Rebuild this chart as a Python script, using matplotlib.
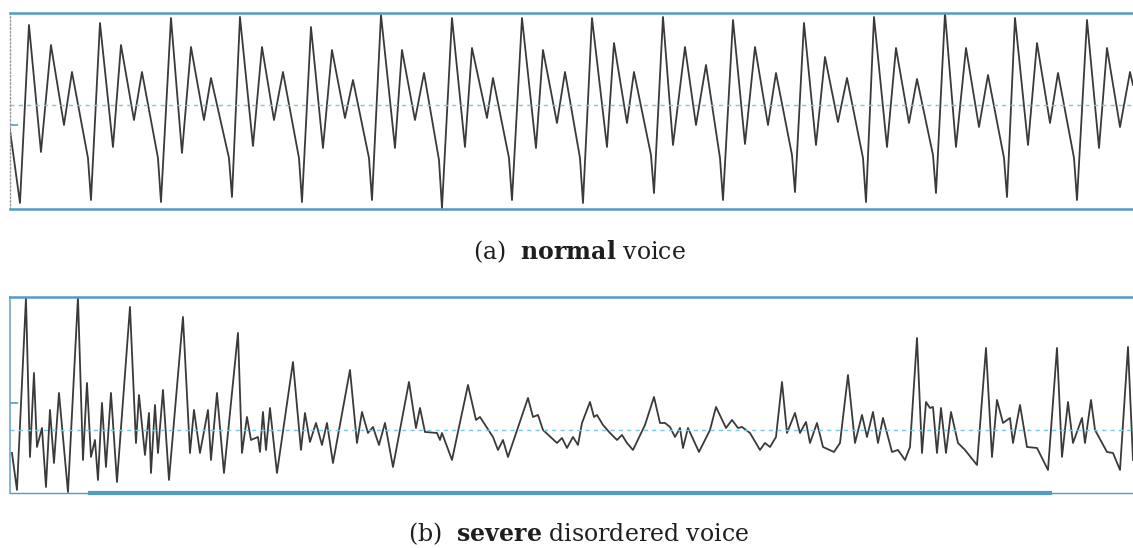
import matplotlib.pyplot as plt

plt.rcParams['mathtext.fontset'] = 'dejavuserif'

# (a) normal voice: sample index and amplitude (dashed line = 0)
t_normal = [10, 20, 29, 41, 51, 64, 72, 88, 91,
            100, 113, 121, 134, 142, 158, 161,
            171, 182, 191, 204, 211, 229, 232,
            240, 253, 262, 274, 283, 299, 302,
            311, 323, 332, 345, 353, 369, 372,
            381, 395, 402, 415, 424, 439, 442,
            452, 465, 472, 487, 493, 509, 512,
            522, 536, 543, 557, 565, 580, 583,
            592, 607, 614, 627, 634, 651, 654,
            663, 673, 685, 696, 706, 720, 723,
            733, 745, 755, 768, 776, 792, 795,
            804, 816, 825, 838, 847, 863, 866,
            874, 887, 896, 909, 917, 933, 936,
            945, 956, 966, 979, 988, 1004, 1007,
            1015, 1028, 1037, 1050, 1058, 1074, 1077,
            1087, 1099, 1107, 1120, 1130, 1133]
a_normal = [-25, -98, 80, -47, 60, -20, 33, -53, -95,
            82, -42, 60, -15, 33, -53, -97,
            87, -48, 58, -15, 27, -53, -92,
            88, -41, 58, -15, 33, -53, -97,
            78, -43, 55, -13, 25, -53, -95,
            90, -43, 55, -15, 32, -55, -103,
            87, -42, 57, -13, 27, -53, -95,
            87, -43, 55, -18, 33, -53, -98,
            87, -42, 62, -18, 33, -50, -88,
            88, -40, 58, -20, 40, -53, -95,
            85, -39, 58, -20, 32, -50, -87,
            82, -40, 48, -17, 27, -53, -97,
            88, -42, 57, -18, 26, -50, -88,
            92, -42, 57, -22, 30, -53, -92,
            87, -40, 62, -18, 32, -53, -95,
            85, -43, 57, -22, 33, 20]

# (b) severe disordered voice
t_severe = [12, 17, 26, 30, 34, 37, 42, 46, 50, 54, 59, 68,
            78, 83, 87, 91, 95, 98, 102, 106, 111, 117,
            130, 136, 139, 145, 149, 151, 155, 158, 163, 169,
            183, 190, 194, 200, 208, 211, 217, 224,
            238, 242, 247, 251, 258, 260, 263, 266, 270, 277,
            293, 301, 305, 310, 316, 322, 327, 333,
            350, 357, 362, 368, 373, 379, 385, 393,
            409, 416, 420, 425, 437, 440, 442, 452,
            468, 476, 480, 493, 498, 503, 508,
            528, 533, 538, 543, 557, 562, 567, 573, 578, 582,
            590, 594, 597, 603, 610, 617, 622, 627, 633, 645,
            654, 660, 665, 670, 675, 680, 683, 688, 699, 710,
            716, 726, 732, 738, 742, 750, 760, 765, 770, 776,
            782, 787, 795, 800, 806, 810, 817, 823, 834, 840,
            848, 855, 862, 867, 873, 878, 883, 892, 898, 905, 910,
            917, 922, 926, 930, 933, 937, 941, 946, 951, 958, 965, 977,
            986, 992, 997, 1003, 1010, 1013, 1020, 1027, 1037, 1048,
            1057, 1062, 1068, 1073, 1082, 1085, 1091, 1095, 1107, 1113, 1120,
            1128, 1133]
a_severe = [-23, -60, 132, -27, 57, -17, 2, -57, 20, -33, 37, -62,
            133, -30, 47, -27, -10, -50, 27, -37, 37, -52,
            123, -13, 35, -25, 17, -43, 25, -23, 40, -50,
            113, -23, 20, -23, 20, -30, 37, -43,
            97, -23, 13, -10, -7, -22, 18, -20, 22, -43,
            68, -20, 17, -12, 7, -15, 7, -33,
            60, -13, 18, -3, 3, -15, 7, -37,
            48, 2, 22, -2, -3, -10, -3, -30,
            45, 10, 13, -7, -20, -10, -27,
            32, 13, 15, 0, -13, -8, -18, -7, -15, 7,
            28, 13, 15, 5, -3, -10, -5, -13, -20, 5,
            33, 7, 7, 3, -7, 2, -18, 2, -22, 0,
            23, 2, 10, 2, 3, -3, -20, -13, -17, -7,
            48, -3, 17, -3, 8, -13, 7, -17, -22, -13,
            55, -13, 15, -7, 18, -13, 12, -22, -20, -30, -17,
            92, -23, 28, 22, 23, -23, 22, -23, 18, -13, -20, -35,
            82, -27, 30, 7, 12, -13, 25, -17, -18, -40,
            82, -27, 28, -13, 12, -13, 30, 0, -22, -23, -40,
            83, -30]

panels = [
    (t_normal, a_normal, (-104, 92), -20, r'(a)  $\mathbf{normal}$ voice'),
    (t_severe, a_severe, (-63, 133), 27, r'(b)  $\mathbf{severe}$ disordered voice'),
]

frame_col = '#4f9cc4'
wave_col = '#3a3a3a'

fig = plt.figure(figsize=(11.33, 5.48), dpi=100)
bottoms = [0.6186, 0.1004]
caption_y = [0.540, 0.027]

for i, (t, a, ylim, tick, caption) in enumerate(panels):
    ax = fig.add_axes([0.0088, bottoms[i], 0.9912, 0.3577])
    ax.plot(t, a, color=wave_col, lw=1.3, solid_joinstyle='round')
    ax.axhline(0, color='#7cc6e2', lw=1.0, ls=(0, (3, 3)))
    ax.set_xlim(10, 1133)
    ax.set_ylim(*ylim)
    ax.set_xticks([])
    ax.set_yticks([tick])
    ax.set_yticklabels([])
    ax.tick_params(axis='y', direction='in', length=6, color=frame_col, width=1.2)
    ax.spines['right'].set_visible(False)
    for s in ['top', 'bottom']:
        ax.spines[s].set_color(frame_col)
        ax.spines[s].set_linewidth(1.8)
    if i == 0:
        ax.spines['left'].set_color('#9a9a9a')
        ax.spines['left'].set_linestyle(':')
        ax.spines['left'].set_linewidth(1.0)
    else:
        ax.spines['left'].set_color('#6fa8c8')
        ax.spines['left'].set_linewidth(1.2)
        ax.spines['bottom'].set_linewidth(1.0)
        ax.axhline(ylim[0], xmin=0.071, xmax=0.926, color=frame_col, lw=3.0,
                   clip_on=False)
    fig.text(0.511, caption_y[i], caption, ha='center', va='center',
             fontfamily='DejaVu Serif', fontsize=17, color='#1e1e1e')

plt.savefig('out.png', dpi=100)
